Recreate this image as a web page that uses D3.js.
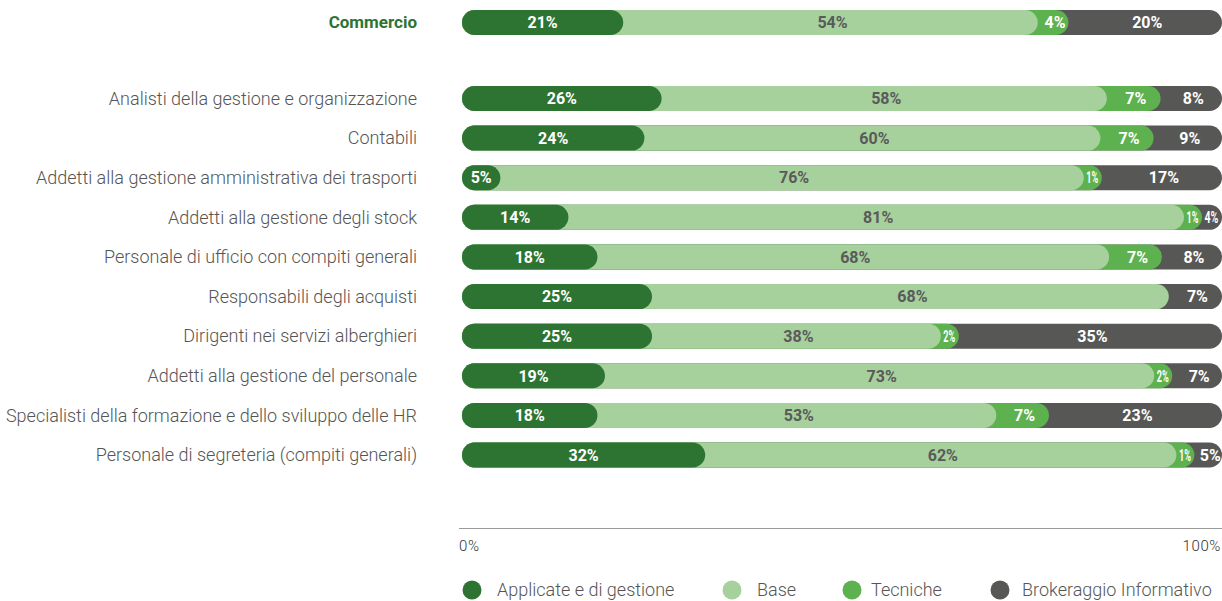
<!DOCTYPE html>
<html lang="it">
<head>
<meta charset="utf-8">
<script src="https://cdn.jsdelivr.net/npm/d3@7/dist/d3.min.js"></script>
<style>
  html, body { margin: 0; padding: 0; background: #fff; }
  svg { display: block; }
  .cat { font-family: Roboto, "Noto Sans", sans-serif; font-weight: 300; font-size: 18px; fill: #555; }
  .cat.sector { font-weight: 700; font-size: 17px; fill: #2d7433; }
  .val { font-family: Roboto, "Noto Sans", sans-serif; font-weight: 700; font-size: 16px; }
  .tick-label { font-family: Roboto, "Noto Sans", sans-serif; font-weight: 300; font-size: 15px; letter-spacing: 0.6px; fill: #333; }
  .legend text { font-family: Roboto, "Noto Sans", sans-serif; font-weight: 300; font-size: 18px; fill: #555; }
</style>
</head>
<body>
<svg id="chart" width="1222" height="601"></svg>
<script>
// Sector total shown on the first row, occupations below it
const sector = "Commercio";
const occupations = [
  "Analisti della gestione e organizzazione",
  "Contabili",
  "Addetti alla gestione amministrativa dei trasporti",
  "Addetti alla gestione degli stock",
  "Personale di ufficio con compiti generali ",
  "Responsabili degli acquisti",
  "Dirigenti nei servizi alberghieri ",
  "Addetti alla gestione del personale",
  "Specialisti della formazione e dello sviluppo delle HR",
  "Personale di segreteria (compiti generali)"
];
const skillTypes = ["Applicate e di gestione", "Base", "Tecniche", "Brokeraggio Informativo"];
const skillKeys = ["applicate", "base", "tecniche", "brokeraggio"];

// Share (%) of each skill type, sector first then occupations in order
const applicate   = [21, 26, 24,  5, 14, 18, 25, 25, 19, 18, 32];
const base        = [54, 58, 60, 76, 81, 68, 68, 38, 73, 53, 62];
const tecniche    = [ 4,  7,  7,  1,  1,  7,  0,  2,  2,  7,  1];
const brokeraggio = [20,  8,  9, 17,  4,  8,  7, 35,  7, 23,  5];

const axisTicks = ["0%", "100%"];

const colors = {
  applicate: "#2d7433",
  base: "#a6d09c",
  tecniche: "#5db14e",
  brokeraggio: "#575756"
};
const labelColors = {
  applicate: "#ffffff",
  base: "#5a5a5a",
  tecniche: "#ffffff",
  brokeraggio: "#ffffff"
};

const rowNames = [sector, ...occupations];
const rows = rowNames.map((name, i) => ({
  name,
  applicate: applicate[i],
  base: base[i],
  tecniche: tecniche[i],
  brokeraggio: brokeraggio[i]
}));

const svg = d3.select("#chart");

const x = d3.scaleLinear().domain([0, 1]).range([462, 1222]);
const yOcc = d3.scalePoint().domain(occupations).range([98.5, 455]);
const sectorGap = 76;
const yCenter = name => name === sector ? yOcc(occupations[0]) - sectorGap : yOcc(name);
const barH = 25;
const r = barH / 2;
const minVisible = 18; // smallest visible slice, so tiny shares stay readable

// 100% stacked layout
const stack = d3.stack().keys(skillKeys).offset(d3.stackOffsetExpand);
const series = stack(rows);

// Pixel extent of every visible segment per row: [start, end]
const extents = rows.map((row, ri) => {
  let prevEnd = x(0);
  return series.map((s, si) => {
    const d = s[ri];
    if (d[1] - d[0] <= 0) return null;
    const last = si === series.length - 1;
    const end = last ? x(d[1]) : Math.max(x(d[1]), prevEnd + minVisible);
    const seg = [prevEnd, end];
    prevEnd = end;
    return seg;
  });
});

// Category labels
svg.append("g")
  .selectAll("text")
  .data(rowNames)
  .join("text")
  .attr("class", d => d === sector ? "cat sector" : "cat")
  .attr("x", 417)
  .attr("y", d => yCenter(d))
  .attr("dy", "0.35em")
  .attr("text-anchor", "end")
  .text(d => d);

// Bars: each segment is a pill from the start of the row to its end,
// drawn from the last series to the first so each rounded end overlaps the next
const barsG = svg.append("g");
series.slice().reverse().forEach(s => {
  const si = skillKeys.indexOf(s.key);
  barsG.append("g")
    .attr("fill", colors[s.key])
    .selectAll("rect")
    .data(s.map((d, ri) => ({ d, ri })).filter(o => extents[o.ri][si]))
    .join("rect")
    .attr("x", x(0))
    .attr("y", o => yCenter(o.d.data.name) - barH / 2)
    .attr("width", o => extents[o.ri][si][1] - x(0))
    .attr("height", barH)
    .attr("rx", r)
    .attr("ry", r);
});

// Value labels centred on the visible part of each segment;
// labels wider than their slice are squeezed horizontally to fit
const labelsG = svg.append("g");
series.forEach((s, si) => {
  const g = labelsG.append("g");
  s.forEach((d, ri) => {
    const v = d.data[s.key];
    const ext = extents[ri][si];
    if (!v || !ext) return;
    const [x0, x1] = ext;
    const avail = x1 - x0;
    const t = g.append("text")
      .attr("class", "val")
      .attr("x", 0)
      .attr("y", 0)
      .attr("dy", "0.36em")
      .attr("text-anchor", "middle")
      .attr("fill", labelColors[s.key])
      .text(v + "%");
    const w = t.node().getComputedTextLength();
    const tight = w > avail - 4;
    const cx = tight ? (x0 + x1) / 2 - 0.5 : (x0 + x1) / 2 + (si === 0 ? 0 : 2);
    const k = tight ? Math.max(avail - 6, 8) / w : 1;
    t.attr("transform", `translate(${cx},${yCenter(d.data.name)}) scale(${k},1)`);
  });
});

// Bottom axis line and end labels
svg.append("line")
  .attr("x1", 459).attr("x2", 1222)
  .attr("y1", 528.5).attr("y2", 528.5)
  .attr("stroke", "#9a9a9a")
  .attr("stroke-width", 1);

svg.append("g")
  .selectAll("text")
  .data(axisTicks)
  .join("text")
  .attr("class", "tick-label")
  .attr("x", (d, i) => i === 0 ? 459 : 1221)
  .attr("y", 551)
  .attr("text-anchor", (d, i) => i === 0 ? "start" : "end")
  .text(d => d);

// Legend
const legendX = [472, 732, 852, 1000];
const legend = svg.append("g").attr("class", "legend")
  .selectAll("g")
  .data(skillKeys)
  .join("g")
  .attr("transform", (d, i) => `translate(${legendX[i]},590)`);
legend.append("circle")
  .attr("r", 9.5)
  .attr("fill", d => colors[d]);
legend.append("text")
  .attr("x", (d, i) => i === 3 ? 22 : i === 2 ? 19 : 25)
  .attr("dy", "0.35em")
  .text((d, i) => skillTypes[i]);
</script>
</body>
</html>
